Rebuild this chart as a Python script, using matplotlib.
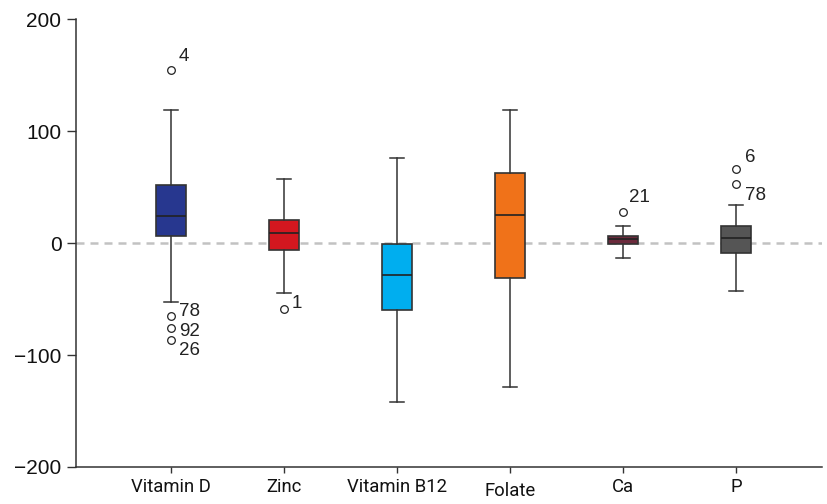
import matplotlib.pyplot as plt

# nutrients and box statistics
nutrients = ["Vitamin D", "Zinc", "Vitamin B12", "Folate", "Ca", "P"]
whisker_low = [-53, -45, -142, -129, -13, -43]
q1 = [6, -6, -60, -31, -1, -9]
median = [24, 9, -29, 25, 3.5, 4.5]
q3 = [52, 20.5, -0.5, 62.5, 6, 15.5]
whisker_high = [119, 57, 76, 119, 15.5, 34]
box_colors = ["#27378f", "#d3171f", "#00aeef", "#f07219", "#6b2a3c", "#555555"]

# outliers: (nutrient index, value, case label, label offset in pixels)
outlier_idx = [0, 0, 0, 0, 1, 4, 5, 5]
outlier_val = [154.5, -65, -76, -87, -59, 28, 66, 52.5]
outlier_lab = ["4", "78", "92", "26", "1", "21", "6", "78"]
label_dx = [8, 8, 8, 8, 8, 6, 9, 9]
label_dy = [13, 4, -3, -10, 6, 14, 12, -11]

stats = []
for i, name in enumerate(nutrients):
    fl = [v for j, v in zip(outlier_idx, outlier_val) if j == i]
    stats.append({"label": name, "whislo": whisker_low[i], "q1": q1[i],
                  "med": median[i], "q3": q3[i], "whishi": whisker_high[i],
                  "fliers": fl})

plt.rcParams["font.family"] = ["Liberation Sans", "DejaVu Sans"]
fig = plt.figure(figsize=(8.27, 5.04), dpi=100)
ax = fig.add_axes([76 / 827, 1 - 467 / 504, 746 / 827, 448 / 504])

line_col = "#333333"
ax.axhline(0, color="#c2c2c2", lw=1.8, ls=(0, (3.2, 2.4)), zorder=0)

bp = ax.bxp(stats, positions=range(len(nutrients)), widths=0.265,
            capwidths=0.13, patch_artist=True,
            boxprops=dict(edgecolor=line_col, linewidth=1.2),
            medianprops=dict(color="#222222", linewidth=1.2),
            whiskerprops=dict(color=line_col, linewidth=1.1),
            capprops=dict(color=line_col, linewidth=1.1),
            flierprops=dict(marker="o", markerfacecolor="white",
                            markeredgecolor="#222222", markersize=5.5,
                            markeredgewidth=0.9))
for patch, c in zip(bp["boxes"], box_colors):
    patch.set_facecolor(c)

for j, v, lab, dx, dy in zip(outlier_idx, outlier_val, outlier_lab, label_dx, label_dy):
    ax.annotate(lab, (j, v), xytext=(dx, dy), textcoords="offset pixels",
                ha="left", va="center", fontsize=13.5, color="#222222")

ax.set_xlim(-0.84, 5.76)
ax.set_ylim(-200, 200)
ax.set_yticks([-200, -100, 0, 100, 200])
ax.set_yticklabels(["\u2212200", "\u2212100", "0", "100", "200"])
ax.set_xticks(range(len(nutrients)))
ax.set_xticklabels(nutrients, fontsize=13.3, family=["Roboto", "DejaVu Sans"])

for s in ["top", "right"]:
    ax.spines[s].set_visible(False)
for s in ["left", "bottom"]:
    ax.spines[s].set_color(line_col)
    ax.spines[s].set_linewidth(1.1)
ax.tick_params(axis="y", length=6.5, width=1.0, color=line_col, labelsize=15,
               labelcolor="#111111", pad=4)
ax.tick_params(axis="x", length=4, width=1.0, color=line_col,
               labelcolor="#111111", pad=4)

# "Folate" sits a little lower than the other labels in the reference
ax.xaxis.get_major_ticks()[3].set_pad(7)

fig.savefig("out.png", dpi=100)
